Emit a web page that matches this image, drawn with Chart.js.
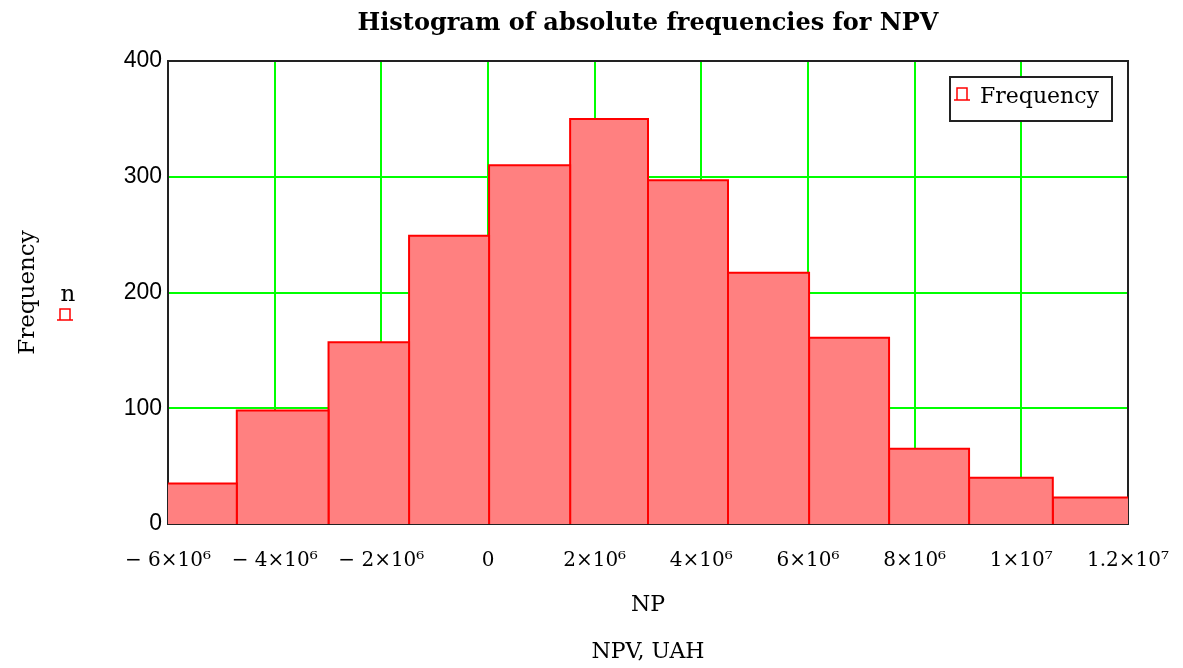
<!DOCTYPE html>
<html>
<head>
<meta charset="utf-8">
<title>Histogram of absolute frequencies for NPV</title>
<script src="https://cdn.jsdelivr.net/npm/chart.js@4.4.1/dist/chart.umd.min.js"></script>
<style>
  html, body { margin: 0; padding: 0; background: #fff; overflow: hidden; }
</style>
</head>
<body>
<canvas id="npvChart" width="1183" height="668"></canvas>
<script>
// bin edges (UAH) and absolute counts
const binEdges = [-6.2e6, -4.71e6, -2.99e6, -1.48e6, 0.02e6, 1.54e6, 3.0e6, 4.5e6, 6.02e6, 7.52e6, 9.02e6, 10.59e6, 12.1e6];
const binCounts = [35, 98, 157, 249, 310, 350, 297, 217, 161, 65, 40, 23];

// axis tick labels
const xTickLabels = ['\u2212 6\u00d710\u2076', '\u2212 4\u00d710\u2076', '\u2212 2\u00d710\u2076', '0',
    '2\u00d710\u2076', '4\u00d710\u2076', '6\u00d710\u2076', '8\u00d710\u2076', '1\u00d710\u2077', '1.2\u00d710\u2077'];
const yTickLabels = ['0', '100', '200', '300', '400'];

const BAR_FILL = '#ff8080';
const BAR_LINE = '#ff0000';
const GRID = '#00ff00';
const SERIF = 'DejaVu Serif';

// small mathcad style bar marker
function drawMarker(ctx, cx, top, bottom) {
    ctx.save();
    ctx.strokeStyle = BAR_LINE;
    ctx.lineWidth = 1.5;
    ctx.beginPath();
    ctx.moveTo(cx - 5, bottom);
    ctx.lineTo(cx - 5, top);
    ctx.lineTo(cx + 5, top);
    ctx.lineTo(cx + 5, bottom);
    ctx.moveTo(cx - 8, bottom);
    ctx.lineTo(cx + 8, bottom);
    ctx.stroke();
    ctx.restore();
}

const framePlugin = {
    id: 'frame',
    beforeDatasetsDraw(chart) {
        const { ctx, chartArea: a } = chart;
        ctx.save();
        ctx.strokeStyle = '#222';
        ctx.lineWidth = 2;
        ctx.strokeRect(a.left, a.top, a.right - a.left, a.bottom - a.top);
        ctx.restore();
    },
    afterDraw(chart) {
        const { ctx, chartArea: a } = chart;

        // legend box, top right inside the plot
        const bx = a.right - 178, by = a.top + 16, bw = 162, bh = 44;
        ctx.save();
        ctx.fillStyle = '#fff';
        ctx.fillRect(bx, by, bw, bh);
        ctx.strokeStyle = '#222';
        ctx.lineWidth = 2;
        ctx.strokeRect(bx, by, bw, bh);
        drawMarker(ctx, bx + 12, by + 11, by + 23);
        ctx.fillStyle = '#000';
        ctx.font = '22px "' + SERIF + '"';
        ctx.textBaseline = 'middle';
        ctx.textAlign = 'left';
        ctx.fillText('Frequency', bx + 30, by + 20);

        // trace name under the y title
        ctx.textAlign = 'center';
        ctx.font = '23px "' + SERIF + '"';
        ctx.fillText('n', 68, 295);
        ctx.restore();
        drawMarker(ctx, 65, 309, 320);
    }
};

// one outline per bin, plus the common base line
const barSets = binCounts.map((n, i) => ({
    data: [
        { x: binEdges[i], y: 0 },
        { x: binEdges[i], y: n },
        { x: binEdges[i + 1], y: n },
        { x: binEdges[i + 1], y: 0 }
    ],
    fill: 'origin',
    backgroundColor: BAR_FILL,
    borderColor: BAR_LINE,
    borderWidth: 2,
    pointRadius: 0,
    tension: 0
}));
barSets.push({
    data: [{ x: binEdges[0], y: 0 }, { x: binEdges[binEdges.length - 1], y: 0 }],
    fill: false,
    borderColor: BAR_LINE,
    borderWidth: 2,
    pointRadius: 0
});

const ctx = document.getElementById('npvChart').getContext('2d');
new Chart(ctx, {
    type: 'line',
    data: { datasets: barSets },
    plugins: [framePlugin],
    options: {
        responsive: false,
        animation: false,
        events: [],
        layout: { padding: { left: 0, right: 55, top: 0, bottom: 0 } },
        plugins: {
            legend: { display: false },
            tooltip: { enabled: false },
            title: {
                display: true,
                text: 'Histogram of absolute frequencies for NPV',
                fullSize: false,
                color: '#000',
                font: { family: SERIF, size: 24, weight: 'bold' },
                padding: { top: 9, bottom: 23.2 }
            }
        },
        scales: {
            x: {
                type: 'linear',
                min: -6e6,
                max: 1.2e7,
                afterFit(scale) {
                    scale.height = 144;
                    // let the end labels hang into the page margin
                    scale.paddingLeft = 0;
                    scale.paddingRight = 0;
                },
                ticks: {
                    stepSize: 2e6,
                    autoSkip: false,
                    maxRotation: 0,
                    padding: 25,
                    color: '#000',
                    font: { family: SERIF, size: 20 },
                    callback: (v, i) => xTickLabels[i]
                },
                grid: { color: GRID, lineWidth: 2, drawTicks: false },
                border: { display: false },
                title: {
                    display: true,
                    text: ['NP', 'NPV, UAH'],
                    color: '#000',
                    font: { family: SERIF, size: 22, lineHeight: '47px' },
                    padding: { top: 0, bottom: -7.5 }
                }
            },
            y: {
                min: 0,
                max: 400,
                afterFit(scale) { scale.width = 168; },
                ticks: {
                    stepSize: 100,
                    padding: 6,
                    color: '#000',
                    font: { family: 'Liberation Sans', size: 23 },
                    callback: (v, i) => yTickLabels[i]
                },
                grid: { color: GRID, lineWidth: 2, drawTicks: false },
                border: { display: false },
                title: {
                    display: true,
                    text: 'Frequency',
                    color: '#000',
                    font: { family: SERIF, size: 23 },
                    padding: { top: 14, bottom: 0 }
                }
            }
        }
    }
});
</script>
</body>
</html>
